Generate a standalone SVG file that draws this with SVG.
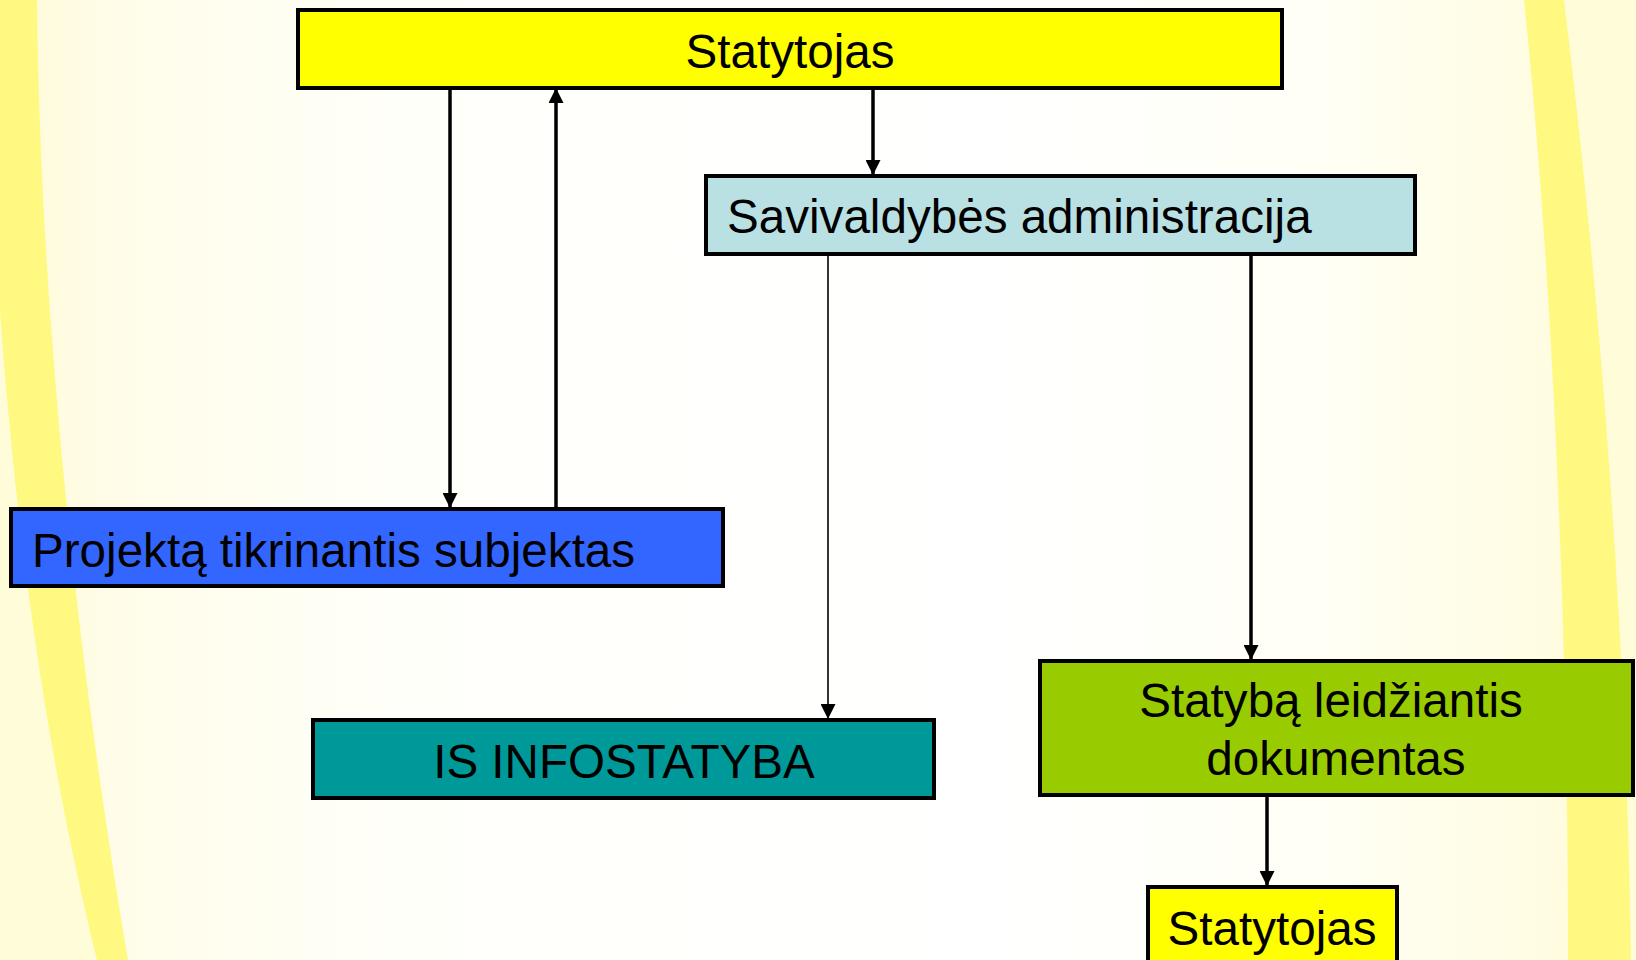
<svg xmlns="http://www.w3.org/2000/svg" width="1636" height="960" viewBox="0 0 1636 960">
<defs>
<linearGradient id="bg" x1="0" y1="0" x2="1" y2="0">
<stop offset="0" stop-color="#FFFBD8"/>
<stop offset="0.08" stop-color="#FFFDEA"/>
<stop offset="0.25" stop-color="#FFFFFA"/>
<stop offset="0.6" stop-color="#FFFFFF"/>
<stop offset="0.8" stop-color="#FFFFF6"/>
<stop offset="0.92" stop-color="#FFFDE6"/>
<stop offset="1" stop-color="#FFFBD8"/>
</linearGradient>
<marker id="arr" viewBox="0 0 15 15" refX="15" refY="7.5" markerWidth="15" markerHeight="15" markerUnits="userSpaceOnUse" orient="auto">
<path d="M0,0 L15,7.5 L0,15 Z" fill="#000"/>
</marker>
<style>
.box{stroke:#000;stroke-width:4}
.t{font-family:"Liberation Sans",Arial,sans-serif;font-size:47.6px;fill:#000}
.c{text-anchor:middle}
.ln{stroke:#000;stroke-width:3.5;fill:none}
.thin{stroke:#000;stroke-width:1.6;fill:none}
</style>
</defs>
<g id="background">
<rect x="0" y="0" width="1636" height="960" fill="url(#bg)"/>
<path d="M-40,0 L-15,0 C-5,380 30,690 97,960 L-40,960 Z" fill="#FFFCDA"/>
<path d="M37,0 C40,300 75,650 128,960 L97,960 C30,690 -5,380 -15,0 Z" fill="#FFF982"/>
<path d="M1564,0 C1595,250 1626,600 1631,960 L1640,960 L1640,0 Z" fill="#FFFCDA"/>
<path d="M1524,0 C1550,250 1568,600 1568,960 L1631,960 C1626,600 1595,250 1564,0 Z" fill="#FFF982"/>
</g>
<g id="connectors">
<line class="ln" x1="450" y1="88" x2="450" y2="508" marker-end="url(#arr)"/>
<line class="ln" x1="556" y1="508" x2="556" y2="88" marker-end="url(#arr)"/>
<line class="ln" x1="873" y1="88" x2="873" y2="175" marker-end="url(#arr)"/>
<line class="thin" x1="828" y1="255" x2="828" y2="719" marker-end="url(#arr)"/>
<line class="ln" x1="1251" y1="255" x2="1251" y2="660" marker-end="url(#arr)"/>
<line class="ln" x1="1267" y1="795" x2="1267" y2="886" marker-end="url(#arr)"/>
</g>
<g id="statytojas-top">
<rect class="box" x="298" y="10" width="984" height="78" fill="#FFFF00"/>
<text class="t c" x="790" y="68">Statytojas</text>
</g>
<g id="savivaldybes">
<rect class="box" x="706" y="176" width="709" height="78" fill="#B9E0E3"/>
<text class="t" x="727" y="233">Savivaldybės administracija</text>
</g>
<g id="projekta">
<rect class="box" x="11" y="509" width="712" height="77" fill="#3366FF"/>
<text class="t" x="32" y="567">Projektą tikrinantis subjektas</text>
</g>
<g id="infostatyba">
<rect class="box" x="313" y="720" width="621" height="78" fill="#009999"/>
<text class="t c" x="624" y="778">IS INFOSTATYBA</text>
</g>
<g id="statyba">
<rect class="box" x="1040" y="661" width="593" height="134" fill="#99CC00"/>
<text class="t c" x="1331" y="717">Statybą leidžiantis</text>
<text class="t c" x="1336" y="775">dokumentas</text>
</g>
<g id="statytojas-bottom">
<rect class="box" x="1148" y="887" width="249" height="90" fill="#FFFF00"/>
<text class="t c" x="1272" y="945">Statytojas</text>
</g>
</svg>
